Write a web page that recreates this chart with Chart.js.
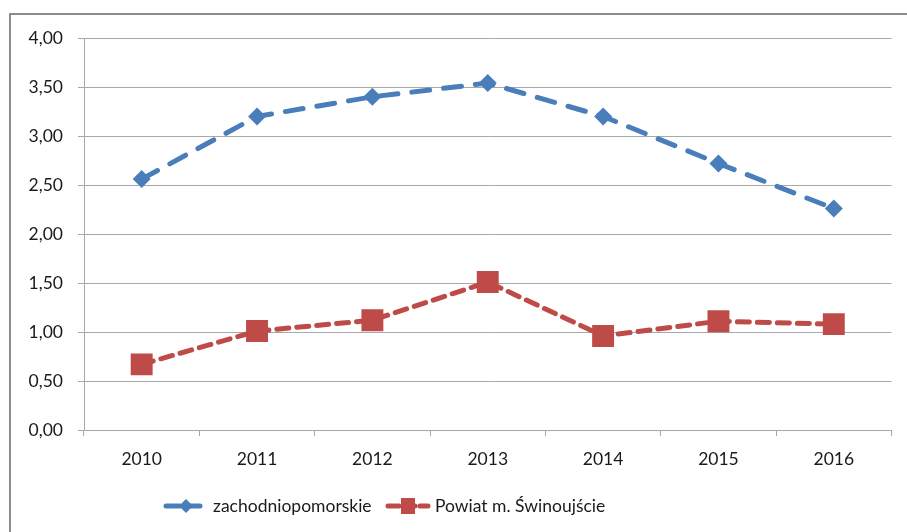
<!DOCTYPE html>
<html lang="pl">
<head>
<meta charset="utf-8">
<title>zachodniopomorskie / Powiat m. Świnoujście</title>
<script src="https://cdn.jsdelivr.net/npm/chart.js@4/dist/chart.umd.min.js"></script>
<style>
  html, body { margin: 0; padding: 0; background: #fff; }
  #wrap { position: relative; width: 907px; height: 532px; overflow: hidden; }
  #frame {
    position: absolute; left: 9px; top: 13px; width: 910px; height: 540px;
    border-left: 2px solid #8c8c8c; border-top: 2px solid #8c8c8c;
    box-sizing: border-box;
  }
  canvas { position: absolute; left: 0; top: 0; }
</style>
</head>
<body>
<div id="wrap">
  <div id="frame"></div>
  <canvas id="chart" width="907" height="532"></canvas>
</div>
<script>
// dane
const lata = ['2010', '2011', '2012', '2013', '2014', '2015', '2016'];
const zachodniopomorskie = [2.56, 3.20, 3.40, 3.54, 3.20, 2.72, 2.26];
const swinoujscie = [0.67, 1.01, 1.12, 1.51, 0.96, 1.11, 1.08];
const nazwySerii = ['zachodniopomorskie', 'Powiat m. Świnoujście'];

const FONT = 'Lato, "Open Sans", sans-serif';
const FONT_SIZE = 17.5;
const BLUE = '#4a7ebb';
const RED = '#be4b48';
const GRID = '#a8a8a8';

// legenda rysowana pod osią X (linia + znacznik jak w Excelu)
const legendaPlugin = {
  id: 'legendaExcel',
  afterDraw(chart) {
    const ctx = chart.ctx;
    const y = 506;
    const items = [
      { x: 164, color: BLUE, dash: [14, 6], shape: 'diamond', label: nazwySerii[0] },
      { x: 386, color: RED, dash: [11, 5], shape: 'square', label: nazwySerii[1] }
    ];
    ctx.save();
    items.forEach(it => {
      ctx.strokeStyle = it.color;
      ctx.lineWidth = 5;
      ctx.lineCap = 'round';
      ctx.setLineDash(it.dash);
      ctx.beginPath();
      ctx.moveTo(it.x + 2, y);
      ctx.lineTo(it.x + 42, y);
      ctx.stroke();
      ctx.setLineDash([]);
      ctx.fillStyle = it.color;
      const cx = it.x + 22;
      ctx.beginPath();
      if (it.shape === 'diamond') {
        ctx.moveTo(cx, y - 7); ctx.lineTo(cx + 7, y); ctx.lineTo(cx, y + 7); ctx.lineTo(cx - 7, y);
      } else {
        ctx.rect(cx - 7, y - 8, 14, 16);
      }
      ctx.closePath();
      ctx.fill();
      ctx.fillStyle = '#1a1a1a';
      ctx.font = FONT_SIZE + 'px ' + FONT;
      ctx.textBaseline = 'middle';
      ctx.textAlign = 'left';
      ctx.fillText(it.label, it.x + 49, y);
    });
    ctx.restore();
  }
};

new Chart(document.getElementById('chart'), {
  type: 'line',
  data: {
    labels: lata,
    datasets: [
      {
        label: nazwySerii[0],
        data: zachodniopomorskie,
        borderColor: BLUE,
        backgroundColor: BLUE,
        borderWidth: 5,
        borderDash: [18, 14],
        borderCapStyle: 'round',
        pointStyle: 'rectRot',
        pointRadius: 9,
        pointBorderWidth: 0,
        tension: 0
      },
      {
        label: nazwySerii[1],
        data: swinoujscie,
        borderColor: RED,
        backgroundColor: RED,
        borderWidth: 5,
        borderDash: [12, 8],
        borderCapStyle: 'round',
        pointStyle: 'rect',
        pointRadius: 15.5,
        pointBorderWidth: 0,
        tension: 0
      }
    ]
  },
  options: {
    responsive: false,
    animation: false,
    devicePixelRatio: 1,
    layout: { padding: { top: 38, right: 11, left: 0, bottom: 0 } },
    plugins: {
      legend: { display: false },
      tooltip: { enabled: false }
    },
    scales: {
      x: {
        offset: true,
        grid: {
          offset: true,
          drawOnChartArea: false,
          color: GRID,
          tickLength: 6,
          tickColor: GRID
        },
        border: { color: GRID, width: 1 },
        ticks: { color: '#1a1a1a', font: { family: FONT, size: FONT_SIZE }, padding: 13, maxRotation: 0 },
        afterFit(scale) {
          scale.height = 102;
          scale.paddingLeft = 0;
          scale.paddingRight = 0;
        }
      },
      y: {
        min: 0,
        max: 4,
        grid: { color: GRID, tickLength: 6, tickColor: GRID },
        border: { color: GRID, width: 1 },
        ticks: {
          stepSize: 0.5,
          color: '#1a1a1a',
          font: { family: FONT, size: FONT_SIZE },
          padding: 15,
          callback: v => v.toFixed(2).replace('.', ',')
        },
        afterFit(scale) { scale.width = 84; }
      }
    }
  },
  plugins: [legendaPlugin]
});
</script>
</body>
</html>
